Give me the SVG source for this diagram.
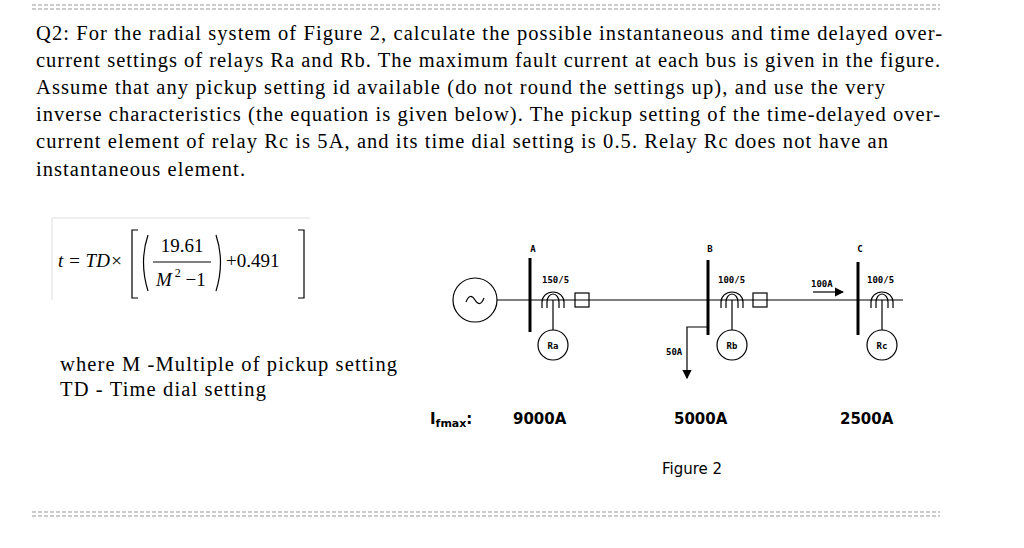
<svg xmlns="http://www.w3.org/2000/svg" width="1024" height="548" viewBox="0 0 1024 548">
<style>
.t{font-family:"Liberation Serif",serif;font-size:20.5px;fill:#000}
.s{font-family:"DejaVu Sans Mono","Liberation Mono",monospace;font-weight:bold;font-size:9px;fill:#000}
.l{font-family:"DejaVu Sans",sans-serif;font-size:15px;fill:#000;font-weight:bold}
.e{font-family:"Liberation Serif",serif;font-size:19px;fill:#000}
.w{stroke:#000;fill:none;stroke-width:1.2}
.bus{stroke:#000;stroke-width:3}
.eq{stroke:#bbb;stroke-width:1.5;stroke-dasharray:4 2}
</style>
<defs><marker id="ar" markerWidth="8" markerHeight="8" refX="7" refY="4" orient="auto"><path d="M0,0 L8,4 L0,8Z" fill="#000"/></marker></defs>
<rect width="1024" height="548" fill="#fff"/>
<line x1="32" y1="5" x2="940" y2="5" class="eq"/><line x1="32" y1="9" x2="940" y2="9" class="eq"/>
<line x1="32" y1="512" x2="940" y2="512" class="eq"/><line x1="32" y1="516" x2="940" y2="516" class="eq"/>
<g id="question">
<text class="t" x="36" y="40" textLength="906">Q2: For the radial system of Figure 2, calculate the possible instantaneous and time delayed over-</text>
<text class="t" x="36" y="67" textLength="904">current settings of relays Ra and Rb. The maximum fault current at each bus is given in the figure.</text>
<text class="t" x="36" y="94" textLength="849">Assume that any pickup setting id available (do not round the settings up), and use the very</text>
<text class="t" x="36" y="121" textLength="904">inverse characteristics (the equation is given below). The pickup setting of the time-delayed over-</text>
<text class="t" x="36" y="148" textLength="852">current element of relay Rc is 5A, and its time dial setting is 0.5. Relay Rc does not have an</text>
<text class="t" x="36" y="176" textLength="209">instantaneous element.</text>
</g>
<g id="equation">
<line x1="52" y1="218" x2="52" y2="300" stroke="#ddd"/>
<line x1="52" y1="218" x2="310" y2="218" stroke="#ddd"/>
<text class="e" x="58" y="267" font-style="italic">t = TD×</text>
<path d="M138,230 h-6 v68 h6 M298,230 h6 v68 h-6" class="w"/>
<path d="M148,235 q-9,27 0,56 M216,235 q9,27 0,56" class="w"/>
<text class="e" x="182" y="252" text-anchor="middle">19.61</text>
<line x1="153" y1="262" x2="211" y2="262" stroke="#000"/>
<text class="e" x="156" y="286"><tspan font-style="italic">M</tspan><tspan font-size="12" dy="-9"> 2</tspan><tspan dy="9"> −1</tspan></text>
<text class="e" x="226" y="267">+0.491</text>
<text class="t" x="60" y="371" textLength="337">where M -Multiple of pickup setting</text>
<text class="t" x="60" y="396" textLength="206">TD - Time dial setting</text>
</g>
<g id="connectors">
<line x1="497" y1="300" x2="903" y2="300" class="w"/>
<line x1="553" y1="300" x2="553" y2="330" class="w"/>
<line x1="732" y1="300" x2="732" y2="330" class="w"/>
<line x1="882" y1="300" x2="882" y2="330" class="w"/>
<path d="M708,327 H687 V378" class="w" marker-end="url(#ar)"/>
<line x1="813" y1="292" x2="843" y2="292" class="w" marker-end="url(#ar)"/>
</g>
<g id="generator"><circle cx="475" cy="300" r="22" class="w" fill="#fff"/><path d="M466,302 q4,-10 9,-2 q5,8 9,-2" class="w"/></g>
<g id="busA"><line x1="530" y1="258" x2="530" y2="332" class="bus"/><text class="s" x="533" y="252" font-size="11" text-anchor="middle">A</text></g>
<g id="busB"><line x1="708" y1="260" x2="708" y2="335" class="bus"/><text class="s" x="710" y="252" font-size="11" text-anchor="middle">B</text></g>
<g id="busC"><line x1="858" y1="262" x2="858" y2="335" class="bus"/><text class="s" x="860" y="252" font-size="11" text-anchor="middle">C</text></g>
<g id="ctA"><path d="M547,308 v-6 a6,8 0 0 1 12,0 v6 M542,308 v-6 a11,10 0 0 1 22,0 v6" class="w" stroke-width="0.9"/><text class="s" x="542" y="283">150/5</text><rect x="575" y="293" width="14" height="14" class="w" fill="#fff"/></g>
<g id="ctB"><path d="M726,308 v-6 a6,8 0 0 1 12,0 v6 M721,308 v-6 a11,10 0 0 1 22,0 v6" class="w" stroke-width="0.9"/><text class="s" x="718" y="283">100/5</text><rect x="753" y="293" width="14" height="14" class="w" fill="#fff"/></g>
<g id="ctC"><path d="M876,308 v-6 a6,8 0 0 1 12,0 v6 M871,308 v-6 a11,10 0 0 1 22,0 v6" class="w" stroke-width="0.9"/><text class="s" x="867" y="283">100/5</text><text class="s" x="811" y="287">100A</text></g>
<g id="Ra"><circle cx="553" cy="345" r="15" class="w" fill="#fff"/><text class="s" x="553" y="349" text-anchor="middle">Ra</text></g>
<g id="Rb"><circle cx="732" cy="345" r="15" class="w" fill="#fff"/><text class="s" x="732" y="349" text-anchor="middle">Rb</text></g>
<g id="Rc"><circle cx="882" cy="345" r="15" class="w" fill="#fff"/><text class="s" x="882" y="349" text-anchor="middle">Rc</text></g>
<text class="s" x="666" y="355">50A</text>
<g id="labels">
<text class="l" x="430" y="424">I<tspan font-size="11" dy="3">fmax</tspan><tspan dy="-3">:</tspan></text>
<text class="l" x="513" y="424">9000A</text>
<text class="l" x="674" y="424">5000A</text>
<text class="l" x="840" y="424">2500A</text>
<text class="l" x="662" y="474" style="font-weight:normal">Figure 2</text>
</g>
</svg>
